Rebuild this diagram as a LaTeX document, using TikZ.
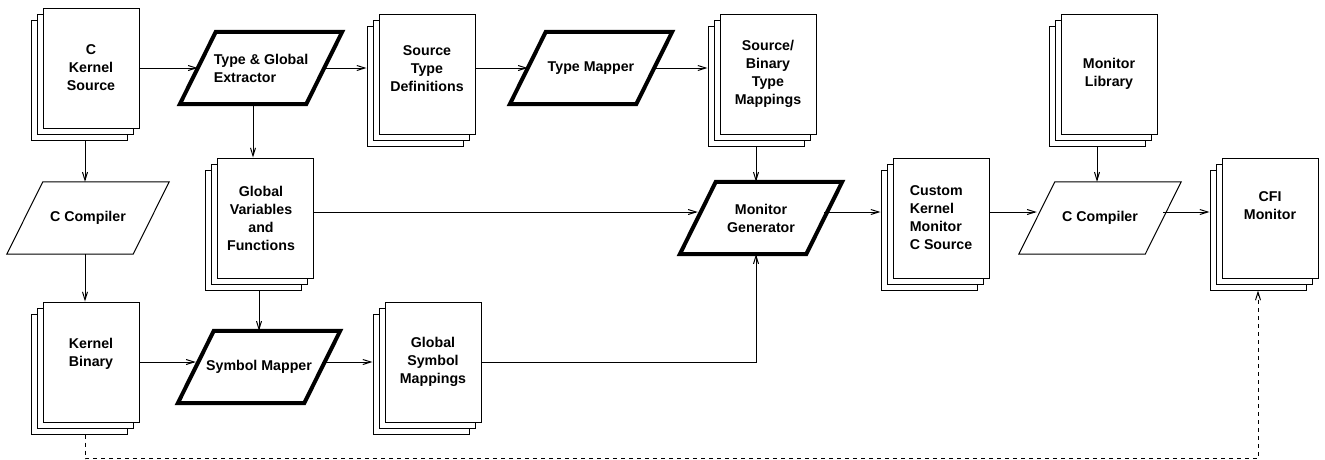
\documentclass[tikz,border=0pt]{standalone}
\usepackage{fontspec}
\setmainfont{Liberation Sans}
\usetikzlibrary{arrows.meta}

\newcommand{\boxfont}{\fontsize{14.2}{18}\selectfont\bfseries}

% three stacked pages, front one at #3
\newcommand{\pages}[4][]{%
  \node[page] (#2-b) at ([xshift=-12pt,yshift=-12pt]#3) {};
  \node[page] (#2-m) at ([xshift=-6pt,yshift=-6pt]#3) {};
  \node[page] (#2) at (#3) {};
  \node[pagetext,#1] (#2-t) at (#2) {#4};
}

% slanted outline round a process node
\newcommand{\slant}[2][line width=1pt]{%
  \draw[#1] ([xshift=-18pt]#2.south west) -- ([xshift=-18pt]#2.south east)
    -- ([xshift=18pt]#2.north east) -- ([xshift=18pt]#2.north west) -- cycle;
}

\tikzset{
  page/.style={draw, fill=white, line width=1pt, minimum width=96pt, minimum height=120pt, inner sep=0pt},
  pagetext/.style={font=\boxfont, align=center, inner sep=0pt},
  proc/.style={minimum width=126pt, minimum height=72pt, inner sep=0pt, font=\boxfont, align=center},
  arr/.style={line width=1pt, -{Straight Barb[length=8pt,width=5pt]}},
  dashlink/.style={arr, dash pattern=on 4pt off 4pt}
}

\begin{document}
\begin{tikzpicture}[x=1pt, y=-1pt]
  \useasboundingbox (0,0) rectangle (1325,459);

  % documents
  \pages{ksrc}{91,68}{C\\Kernel\\Source}
  \pages[yshift=5pt]{std}{427,74}{Source\\Type\\Definitions}
  \pages{sbt}{768,74}{Source/\\Binary\\Type\\Mappings}
  \pages{mlib}{1109,74}{Monitor\\Library}
  \pages[xshift=-4pt]{gvf}{265,218}{Global\\Variables\\and\\Functions}
  \pages[align=left]{cks}{941,218}{Custom\\Kernel\\Monitor\\C Source}
  \pages[yshift=12pt]{cfi}{1270,218}{CFI\\Monitor}
  \pages[yshift=8pt, align=left]{kbin}{91,362}{Kernel\\Binary}
  \pages{gsm}{433,362}{Global\\Symbol\\Mappings}

  % tools
  \node[proc, align=left] (tge) at (261,68) {Type \& Global\\Extractor};
  \node[proc] (tm) at (591,68) {Type Mapper};
  \node[proc] (mg) at (761,218) {Monitor\\Generator};
  \node[proc] (sym) at (259,367) {Symbol Mapper};
  \node[proc] (ccl) at (88,218) {C Compiler};
  \node[proc] (ccr) at (1100,218) {C Compiler};
  \slant[line width=4pt]{tge}
  \slant[line width=4pt]{tm}
  \slant[line width=4pt]{mg}
  \slant[line width=4pt]{sym}
  \slant{ccl}
  \slant{ccr}

  % flow
  \draw[arr] (ksrc.east) -- (tge.west);
  \draw[arr] (tge.east) -- (tge.east -| std-b.west);
  \draw[arr] (std.east |- tm.west) -- (tm.west);
  \draw[arr] (tm.east) -- (tm.east -| sbt-b.west);
  \draw[arr] (sbt-b.south) -- (sbt-b.south |- mg.north);
  \draw[arr] (ksrc-m |- ksrc-b.south) -- (ksrc-m |- ccl.north);
  \draw[arr] (kbin-m |- ccl.south) -- (kbin-m |- kbin.north);
  \draw[arr] (gvf-b |- tge.south) -- (gvf-b |- gvf.north);
  \draw[arr] (gvf-m |- gvf-b.south) -- (gvf-m |- sym.north);
  \draw[arr] ([yshift=6pt]gvf.east) -- ([yshift=6pt]gvf.east -| mg.west);
  \draw[arr] (kbin.east) -- (kbin.east -| sym.west);
  \draw[arr] (sym.east |- kbin.east) -- (gsm-b.west |- kbin.east);
  \draw[arr] (gsm.east) -| (sbt-b |- mg.south);
  \draw[arr] ([yshift=6pt]mg.east) -- ([yshift=6pt]mg.east -| cks-b.west);
  \draw[arr] ([yshift=6pt]cks.east) -- ([yshift=6pt]cks.east -| ccr.west);
  \draw[arr] (mlib-b.south) -- (mlib-b.south |- ccr.north);
  \draw[arr] ([yshift=6pt]ccr.east) -- ([yshift=6pt]ccr.east -| cfi-b.west);
  \draw[dashlink] (kbin-m |- kbin-b.south) -- ++(0,24) -| (cfi-b.south);
\end{tikzpicture}
\end{document}
